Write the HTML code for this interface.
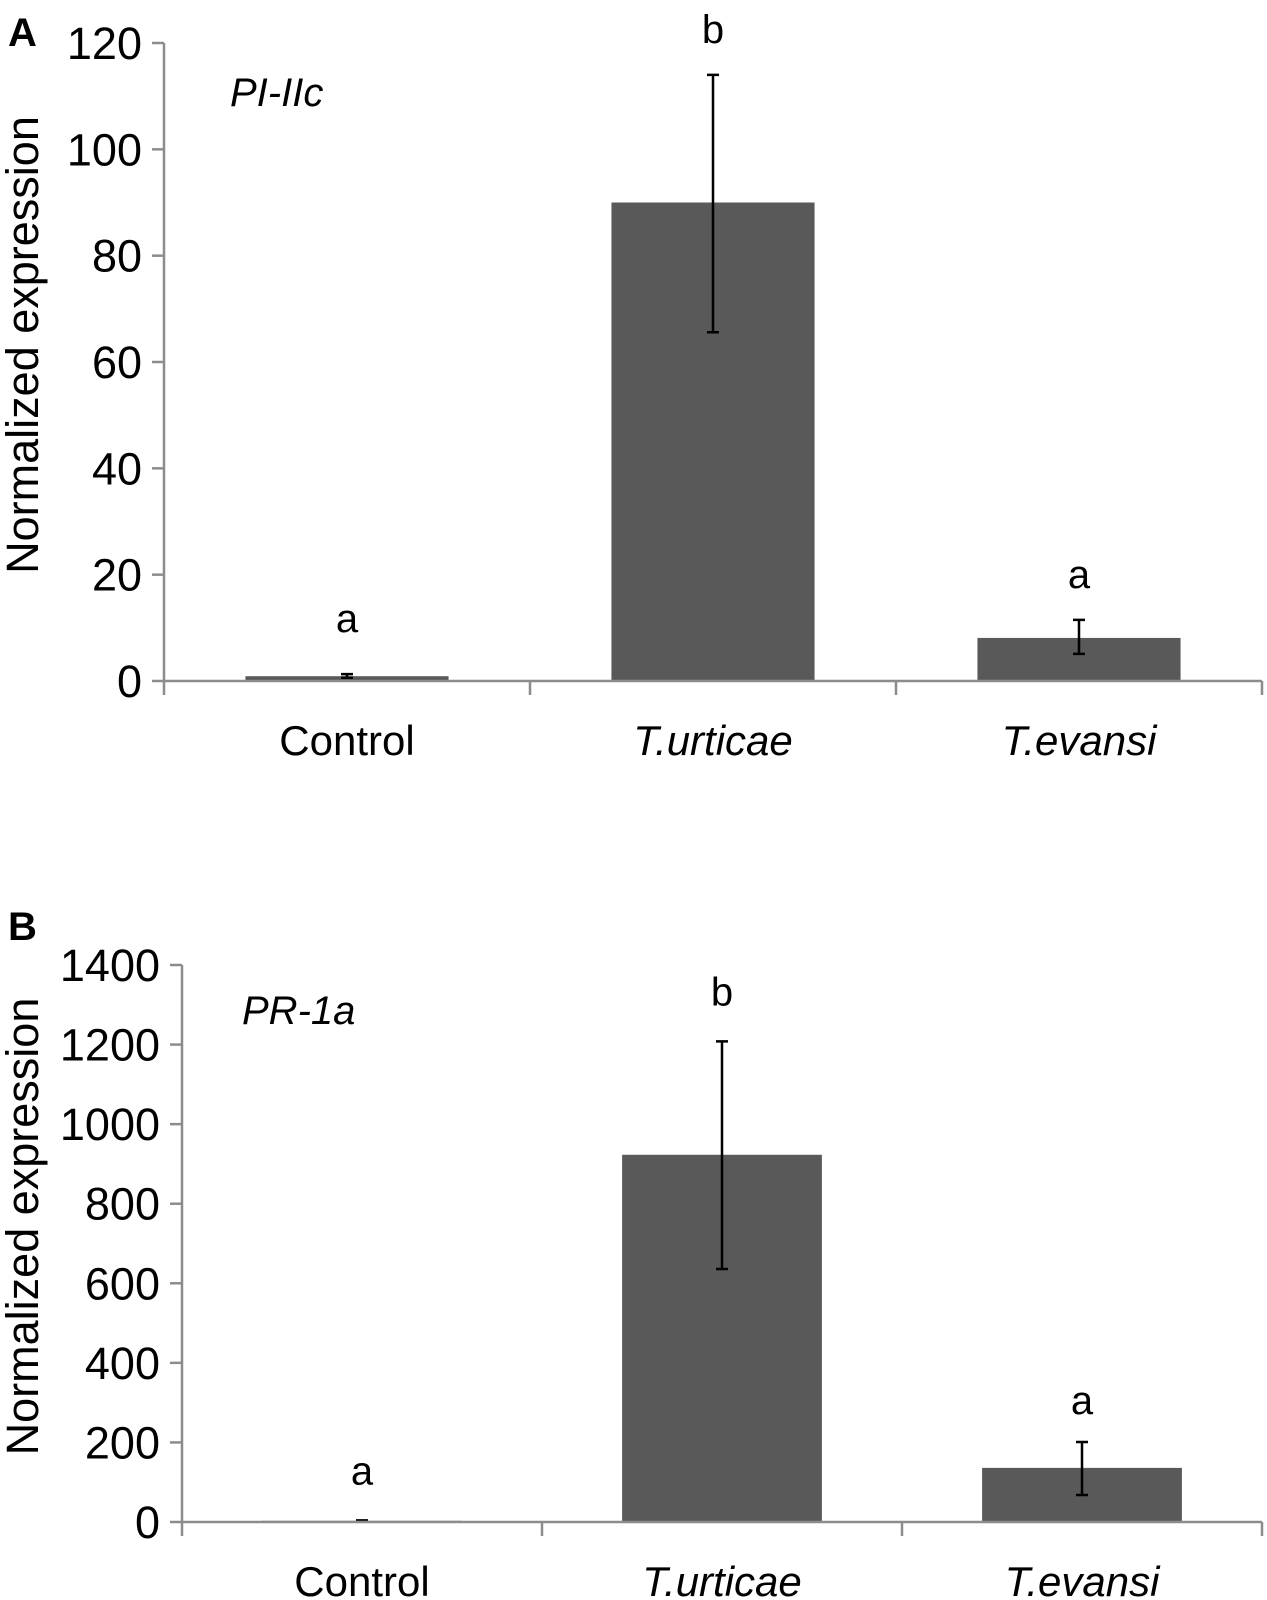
<!DOCTYPE html>
<html><head><meta charset="utf-8"><style>
html,body{margin:0;padding:0;background:#fff}
svg{display:block}
text{font-family:"Liberation Sans",Arial,sans-serif;fill:#000}
</style></head><body>
<svg width="1267" height="1600" viewBox="0 0 1267 1600" id="fig"></svg>
<script>
const categories=["Control","T.urticae","T.evansi"];
const valuesA=[0.9,90,8.1];
const errHiA=[1.3,114,11.5];
const errLoA=[0.6,65.6,5.1];
const lettersA=["a","b","a"];
const ticksA=[0,20,40,60,80,100,120];
const valuesB=[3,923,136];
const errHiB=[4,1208,201];
const errLoB=[2,636,68];
const lettersB=["a","b","a"];
const ticksB=[0,200,400,600,800,1000,1200,1400];

const NS="http://www.w3.org/2000/svg";
const svg=document.getElementById('fig');
function mk(tag,attrs,parent,txt){const e=document.createElementNS(NS,tag);for(const k in attrs)e.setAttribute(k,attrs[k]);if(txt!==undefined)e.textContent=txt;(parent||svg).appendChild(e);return e;}

function panel(cfg){
  const g=mk('g',{});
  
  
  const y=v=>cfg.y0-(v/cfg.max)*(cfg.y0-cfg.yTop);
  const n=categories.length, step=(cfg.xR-cfg.xL)/n;
  const ya=mk('line',{x1:cfg.xL,x2:cfg.xL,y1:cfg.yTop,y2:cfg.y0,stroke:'#8c8c8c','stroke-width':2.5},g);
  
  cfg.ticks.forEach(t=>{
    const l=mk('line',{x1:cfg.xL-12,x2:cfg.xL,y1:y(t),y2:y(t),stroke:'#8c8c8c','stroke-width':2.5},g);
    
    const tx=mk('text',{x:cfg.xL-22,y:y(t)+16,'text-anchor':'end','font-size':45},g,String(t));
    
  });
  categories.forEach((c,i)=>{
    const cx=cfg.xL+step*(i+0.5), bw=step*0.555;
    const b=mk('rect',{x:cx-bw/2,y:y(cfg.vals[i]),width:bw,height:cfg.y0-y(cfg.vals[i]),fill:'#595959'},g);
    
    const e=mk('path',{d:`M${cx} ${y(cfg.hi[i])}V${y(cfg.lo[i])}M${cx-6} ${y(cfg.hi[i])}H${cx+6}M${cx-6} ${y(cfg.lo[i])}H${cx+6}`,stroke:'#000','stroke-width':2.5,fill:'none'},g);
    
    const lt=mk('text',{x:cx,y:y(cfg.hi[i])-cfg.letOff[i],'text-anchor':'middle','font-size':40},g,cfg.letters[i]);
    
    const xl=mk('text',{x:cx,y:cfg.y0+74,'text-anchor':'middle','font-size':42,'font-style':i>0?'italic':'normal'},g,c);
    
  });
  const xa=mk('line',{x1:cfg.xL,x2:cfg.xR,y1:cfg.y0,y2:cfg.y0,stroke:'#8c8c8c','stroke-width':2.5},g);
  
  for(let i=0;i<=n;i++){
    const l=mk('line',{x1:cfg.xL+step*i,x2:cfg.xL+step*i,y1:cfg.y0,y2:cfg.y0+14,stroke:'#8c8c8c','stroke-width':2.5},g);
    
  }
  const yt=mk('text',{x:0,y:0,'text-anchor':'middle','font-size':45,transform:`translate(${cfg.ytX},${(cfg.yTop+cfg.y0)/2-17}) rotate(-90)`},g,'Normalized expression');
  
  const gt=mk('text',{x:cfg.gX,y:cfg.gY,'font-size':40,'font-style':'italic'},g,cfg.gene);
  
  const pl=mk('text',{x:8,y:cfg.pY,'font-size':40,'font-weight':'bold'},g,cfg.letter);
  
}
panel({name:'panel-a',xL:164,xR:1262,y0:681,yTop:43,max:120,ticks:ticksA,vals:valuesA,hi:errHiA,lo:errLoA,letters:lettersA,letOff:[42,32,32],ytX:38,gene:'PI-IIc',gX:230,gY:106,letter:'A',pY:46});
panel({name:'panel-b',xL:182,xR:1262,y0:1522,yTop:965,max:1400,ticks:ticksB,vals:valuesB,hi:errHiB,lo:errLoB,letters:lettersB,letOff:[36,36,28],ytX:38,gene:'PR-1a',gX:242,gY:1024,letter:'B',pY:940});
</script>
</body></html>
